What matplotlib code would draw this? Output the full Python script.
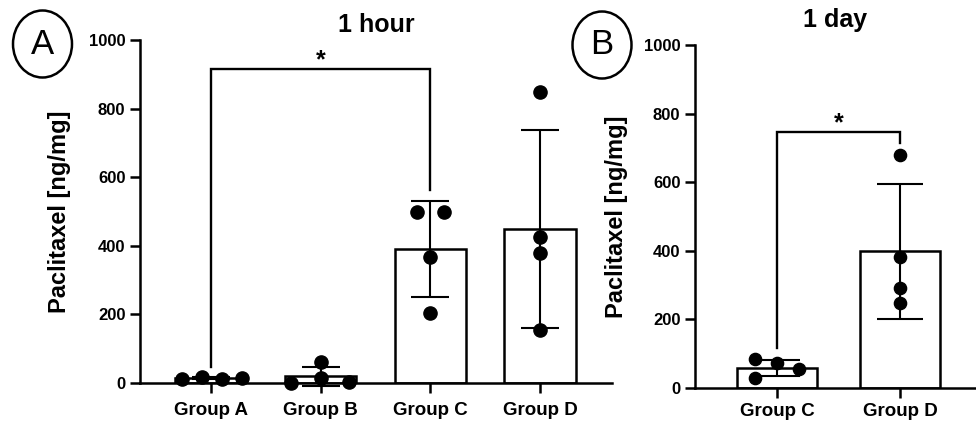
import matplotlib
matplotlib.use("Agg")
import matplotlib.pyplot as plt
from matplotlib.patches import Ellipse
import numpy as np

plt.rcParams['font.family'] = ['Liberation Sans', 'DejaVu Sans']

# ---------------- data ----------------
groups_a = ["Group A", "Group B", "Group C", "Group D"]
points_a = [[12, 17, 12, 14],
            [1, 61, 16, 3],
            [499, 499, 367, 204],
            [848, 426, 379, 155]]
means_a = [14, 20, 391, 449]
sd_a = [2.5, 28, 139, 290]

groups_b = ["Group C", "Group D"]
points_b = [[85, 73, 55, 29],
            [679, 382, 291, 248]]
means_b = [59, 398]
sd_b = [24, 196]

yticks = [0, 200, 400, 600, 800, 1000]
ylabel = "Paclitaxel [ng/mg]"
title_a = "1 hour"
title_b = "1 day"

# bracket values: (left bottom, top, right bottom)
bracket_a = (47, 915, 563)
bracket_b = (117, 746, 714)

# horizontal scatter of points within bars (layout)
jit_a = [[-0.26, -0.08, 0.10, 0.28], [-0.27, 0.0, 0.0, 0.26],
         [-0.12, 0.12, 0.0, 0.0], [0.0, 0.0, 0.0, 0.0]]
jit_b = [[-0.18, 0.0, 0.18, -0.18], [0.0, 0.0, 0.0, 0.0]]

W, H = 976, 426
fig = plt.figure(figsize=(W / 100, H / 100), dpi=100)

def px_axes(l, r, b, t):
    return fig.add_axes([l / W, 1 - b / H, (r - l) / W, (b - t) / H])

axA = px_axes(140, 612, 383, 40)
axB = px_axes(695, 976, 388, 45)


def panel(ax, groups, pts, means, sds, jit, capsize, ms, xlim, title, tpad, labx, bracket, bx):
    x = np.arange(len(groups))
    ax.bar(x, means, width=0.65, color='white', edgecolor='black', linewidth=1.8, zorder=2)
    ax.errorbar(x, means, yerr=sds, fmt='none', ecolor='black', elinewidth=1.5,
                capsize=capsize, capthick=1.5, zorder=3, clip_on=False)
    for i, (p, j) in enumerate(zip(pts, jit)):
        ax.plot(x[i] + np.array(j), p, 'o', color='black', ms=ms, zorder=4, clip_on=False)
    ax.set_xlim(*xlim)
    ax.set_ylim(0, 1000)
    ax.set_yticks(yticks)
    ax.set_xticks(x)
    ax.set_xticklabels(groups)
    for s in ['top', 'right']:
        ax.spines[s].set_visible(False)
    for s in ['left', 'bottom']:
        ax.spines[s].set_linewidth(1.8)
    ax.tick_params(axis='both', direction='out', length=7.5, width=1.8, labelsize=12)
    ax.tick_params(axis='x', labelsize=13.5)
    ax.tick_params(axis='y', pad=3)
    ax.tick_params(axis='x', pad=6)
    for lab in ax.get_xticklabels() + ax.get_yticklabels():
        lab.set_fontweight('bold')
    ax.set_title(title, fontsize=18, fontweight='bold', pad=tpad)
    ax.set_ylabel(ylabel, fontsize=17, fontweight='bold')
    ax.yaxis.set_label_coords(labx, 0.5)
    # significance bracket
    l, t, r = bracket
    ax.plot([bx[0], bx[0], bx[1], bx[1]], [l, t, t, r], color='black', lw=1.7,
            zorder=3, clip_on=False, solid_joinstyle='miter')
    ax.text((bx[0] + bx[1]) / 2, t + 5, "*", ha='center', va='baseline',
            fontsize=18, fontweight='bold')
    ax.set_facecolor('none')


panel(axA, groups_a, points_a, means_a, sd_a, jit_a, 13.5, 9.5, (-0.645, 3.655),
      title_a, 6, -69 / 472, bracket_a, (0, 2))
panel(axB, groups_b, points_b, means_b, sd_b, jit_b, 16.5, 8.8, (-0.667, 1.618),
      title_b, 13, -67 / 281, bracket_b, (0, 1))
axB.tick_params(axis='x', pad=3)

# circled panel letters
for cx, cy, letter in [(42.5, 44, "A"), (602, 45, "B")]:
    e = Ellipse((cx / W, 1 - cy / H), 59 / W, 67 / H, transform=fig.transFigure,
                facecolor='none', edgecolor='black', linewidth=1.8)
    fig.add_artist(e)
    fig.text(cx / W, 1 - cy / H, letter, ha='center', va='center', fontsize=25)

fig.savefig("out.png", dpi=100)
